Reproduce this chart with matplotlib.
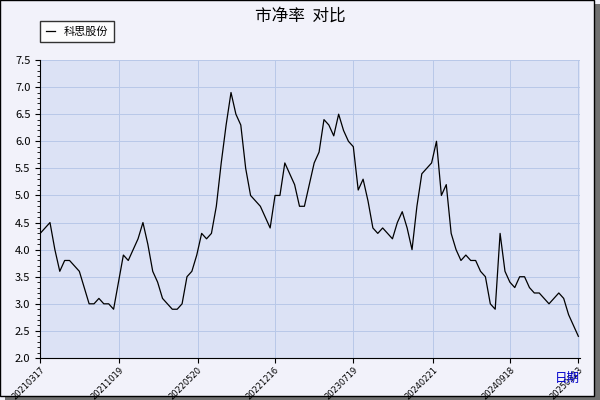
import matplotlib
matplotlib.use("Agg")
import matplotlib.pyplot as plt
import pandas as pd
from matplotlib.patches import Rectangle
from matplotlib.ticker import MultipleLocator

plt.rcParams['font.family'] = ['Noto Sans CJK SC', 'DejaVu Sans']

values = [4.3,4.4,4.5,4.0,3.6,3.8,3.8,3.7,3.6,3.3,3.0,3.0,3.1,3.0,3.0,2.9,3.4,3.9,3.8,4.0,
          4.2,4.5,4.1,3.6,3.4,3.1,3.0,2.9,2.9,3.0,3.5,3.6,3.9,4.3,4.2,4.3,4.8,5.6,6.3,6.9,
          6.5,6.3,5.5,5.0,4.9,4.8,4.6,4.4,5.0,5.0,5.6,5.4,5.2,4.8,4.8,5.2,5.6,5.8,6.4,6.3,
          6.1,6.5,6.2,6.0,5.9,5.1,5.3,4.9,4.4,4.3,4.4,4.3,4.2,4.5,4.7,4.4,4.0,4.8,5.4,5.5,
          5.6,6.0,5.0,5.2,4.3,4.0,3.8,3.9,3.8,3.8,3.6,3.5,3.0,2.9,4.3,3.6,3.4,3.3,3.5,3.5,
          3.3,3.2,3.2,3.1,3.0,3.1,3.2,3.1,2.8,2.6,2.4]
dates = pd.date_range("2021-03-17", "2025-03-23", periods=len(values))
tick_labels = ["20210317","20211019","20220520","20221216","20230719","20240221","20240918","20250323"]
tick_dates = pd.to_datetime(tick_labels)

fig = plt.figure(figsize=(6,4), dpi=100, facecolor="#F2F2FA")
fig.patches.append(Rectangle((0.008,0.0),0.992,0.99,transform=fig.transFigure,facecolor="#707070",edgecolor="none",zorder=-2))
fig.patches.append(Rectangle((0.0,0.01),0.99,0.99,transform=fig.transFigure,facecolor="#F2F2FA",edgecolor="black",lw=1,zorder=-1))
ax = fig.add_axes([0.067,0.105,0.9,0.745])
ax.set_facecolor("#DCE2F5")
ax.plot(dates, values, color="black", lw=0.9, label="科思股份")
ax.set_ylim(2.0,7.5)
ax.set_xlim(dates[0], dates[-1]+pd.Timedelta(days=5))
ax.yaxis.set_major_locator(MultipleLocator(0.5))
ax.yaxis.set_minor_locator(MultipleLocator(0.1))
ax.yaxis.set_major_formatter(matplotlib.ticker.FormatStrFormatter("%.1f"))
ax.set_xticks(tick_dates)
ax.set_xticklabels(tick_labels, rotation=45, ha="right", va="top", rotation_mode="anchor",
                   fontsize=6, family="DejaVu Sans")
ax.tick_params(axis='x', pad=2)
ax.tick_params(axis='y', labelsize=8)
ax.grid(True, color="#B8C8E8", lw=0.7)
for s in ["top","right"]:
    ax.spines[s].set_visible(False)
leg = ax.legend(loc="upper left", bbox_to_anchor=(-0.01,1.15), fontsize=8, frameon=True,
                fancybox=False, edgecolor="black", handlelength=0.8, borderpad=0.5)
leg.get_frame().set_facecolor("white")
fig.text(0.5,0.96,"市净率  对比",ha="center",va="center",fontsize=12)
fig.text(0.945,0.055,"日期",ha="center",va="center",fontsize=9,color="#0000CC")
fig.savefig("out.png", facecolor=fig.get_facecolor())
